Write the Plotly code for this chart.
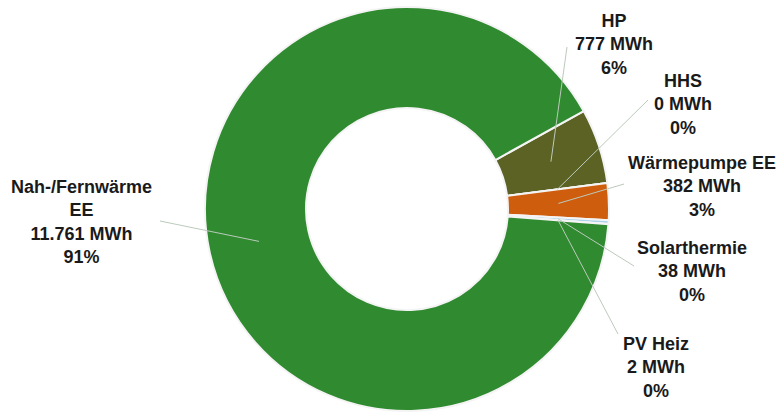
import math
import plotly.graph_objects as go

# ---- data ----
categories = ["HP", "HHS", "Wärmepumpe EE", "Solarthermie", "PV Heiz", "Nah-/Fernwärme EE"]
values_mwh = [777, 0, 382, 38, 2, 11761]
value_labels = ["777", "0", "382", "38", "2", "11.761"]
percent_labels = ["6%", "0%", "3%", "0%", "0%", "91%"]
label_lines = ["HP", "HHS", "Wärmepumpe EE", "Solarthermie", "PV Heiz", "Nah-/Fernwärme<br>EE"]
colors = ["#5b6224", "#8a8a8a", "#cf5d0e", "#a9d3ea", "#e8d44a", "#2f8a30"]

# ---- layout / style ----
W, H = 782, 414
CX, CY, R = 407, 209, 202
HOLE = 0.5
ROTATION = 61
# label block centres (pixels) and leader-line start points (pixels)
label_pos = [(614, 44), (683, 104), (702, 186), (692, 271), (656, 367), (81, 222)]
leader_start = [(567, 47), (648, 100), (624, 184), (634, 266), (618, 334), (160, 221)]

fig = go.Figure()
fig.add_trace(go.Pie(
    labels=categories,
    values=values_mwh,
    sort=False,
    direction="clockwise",
    rotation=ROTATION,
    hole=HOLE,
    textinfo="none",
    marker=dict(colors=colors, line=dict(color="#f4f4f4", width=2)),
    domain=dict(x=[(CX - R) / W, (CX + R) / W], y=[(H - CY - R) / H, (H - CY + R) / H]),
    showlegend=False,
))

total = sum(values_mwh)
cum = 0.0
shapes = []
annotations = []
r_mid = R * (1 + HOLE) / 2
for i, v in enumerate(values_mwh):
    start = ROTATION + cum / total * 360
    cum += v
    end = ROTATION + cum / total * 360
    mid = math.radians((start + end) / 2)
    ex = CX + r_mid * math.sin(mid)
    ey = CY - r_mid * math.cos(mid)
    sx, sy = leader_start[i]
    shapes.append(dict(type="line", xref="paper", yref="paper",
                       x0=sx / W, y0=1 - sy / H, x1=ex / W, y1=1 - ey / H,
                       line=dict(color="#bccabc", width=1)))
    lx, ly = label_pos[i]
    annotations.append(dict(
        xref="paper", yref="paper", x=lx / W, y=1 - ly / H,
        xanchor="center", yanchor="middle", showarrow=False, align="center",
        text=f"<b>{label_lines[i]}<br>{value_labels[i]} MWh<br>{percent_labels[i]}</b>",
        font=dict(family="Liberation Sans, Arial, sans-serif", size=18, color="#1a1a1a"),
    ))

fig.update_layout(
    width=W, height=H,
    margin=dict(l=0, r=0, t=0, b=0),
    paper_bgcolor="white", plot_bgcolor="white",
    shapes=shapes, annotations=annotations,
)
fig.write_html("out.html", config={"displayModeBar": False},
               post_script="document.body.style.margin='0';")
